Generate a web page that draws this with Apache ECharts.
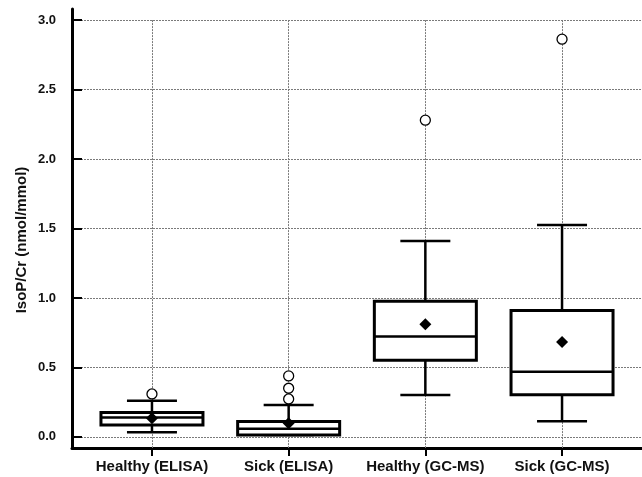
<!DOCTYPE html>
<html>
<head>
<meta charset="utf-8">
<script src="https://cdn.jsdelivr.net/npm/echarts@6/dist/echarts.min.js"></script>
<style>html,body{margin:0;padding:0;background:#fff}#c{width:642px;height:477px}</style>
</head>
<body>
<div id="c"></div>
<script>
const categories = ['Healthy (ELISA)', 'Sick (ELISA)', 'Healthy (GC-MS)', 'Sick (GC-MS)'];
const whiskerLow  = [0.034, 0.014, 0.302, 0.113];
const q1          = [0.086, 0.014, 0.552, 0.304];
const median      = [0.139, 0.058, 0.722, 0.468];
const q3          = [0.175, 0.110, 0.976, 0.910];
const whiskerHigh = [0.261, 0.230, 1.410, 1.525];
const means       = [0.134, 0.099, 0.810, 0.683];
const outliers    = [[0, 0.309], [1, 0.273], [1, 0.350], [1, 0.439], [2, 2.280], [3, 2.863]];
const yTicks = [0, 0.5, 1.0, 1.5, 2.0, 2.5, 3.0];
const xTicks = [0, 1, 2, 3];
const yAxisTitle = 'IsoP/Cr (nmol/mmol)';

const boxData = categories.map((c, i) => [i, whiskerLow[i], q1[i], median[i], q3[i], whiskerHigh[i]]);
const meanData = means.map((m, i) => [i, m]);

const FONT = '"Liberation Sans", Arial, sans-serif';
const BOX_HALF = 51, CAP_HALF = 25;

function renderBox(params, api) {
  const x = api.value(0);
  const pLow = api.coord([x, api.value(1)]);
  const pQ1 = api.coord([x, api.value(2)]);
  const pMed = api.coord([x, api.value(3)]);
  const pQ3 = api.coord([x, api.value(4)]);
  const pHigh = api.coord([x, api.value(5)]);
  const cx = pMed[0];
  const lineStyle = { stroke: '#000', lineWidth: 2.5, fill: null };
  return {
    type: 'group',
    children: [
      { type: 'line', shape: { x1: cx, y1: pHigh[1], x2: cx, y2: pQ3[1] }, style: lineStyle },
      { type: 'line', shape: { x1: cx, y1: pQ1[1], x2: cx, y2: pLow[1] }, style: lineStyle },
      { type: 'line', shape: { x1: cx - CAP_HALF, y1: pHigh[1], x2: cx + CAP_HALF, y2: pHigh[1] }, style: lineStyle },
      { type: 'line', shape: { x1: cx - CAP_HALF, y1: pLow[1], x2: cx + CAP_HALF, y2: pLow[1] }, style: lineStyle },
      { type: 'rect', shape: { x: cx - BOX_HALF, y: pQ3[1], width: BOX_HALF * 2, height: pQ1[1] - pQ3[1] },
        style: { fill: '#fff', stroke: '#000', lineWidth: 3 } },
      { type: 'line', shape: { x1: cx - BOX_HALF, y1: pMed[1], x2: cx + BOX_HALF, y2: pMed[1] }, style: lineStyle }
    ]
  };
}

const chart = echarts.init(document.getElementById('c'), null, { renderer: 'canvas' });
chart.setOption({
  backgroundColor: '#fff',
  animation: false,
  grid: { left: 72, right: 0, top: 9, bottom: 29 },
  xAxis: {
    type: 'value',
    min: -0.585, max: 3.585,
    axisLine: { show: true, onZero: false, lineStyle: { color: '#000', width: 3 } },
    axisTick: { show: true, inside: false, length: 8, customValues: xTicks, lineStyle: { color: '#000', width: 2 } },
    axisLabel: {
      customValues: xTicks, margin: 11,
      formatter: v => categories[Math.round(v)] || '',
      fontFamily: FONT, fontWeight: 'bold', fontSize: 15, color: '#111'
    },
    splitLine: { show: false }
  },
  yAxis: {
    type: 'value',
    min: -0.08, max: 3.08,
    axisLine: { show: true, onZero: false, lineStyle: { color: '#000', width: 3 } },
    axisTick: { show: true, inside: true, length: 10, customValues: yTicks, lineStyle: { color: '#000', width: 2 } },
    axisLabel: {
      customValues: yTicks, margin: 16,
      formatter: v => v.toFixed(1),
      fontFamily: FONT, fontWeight: 'bold', fontSize: 13, color: '#111'
    },
    splitLine: { show: true, lineStyle: { color: '#7a7a7a', width: 1, type: [2, 1] } }
  },
  graphic: [{
    type: 'text', rotation: Math.PI / 2,
    x: 22, y: 240,
    style: { text: yAxisTitle, font: 'bold 15px ' + FONT, fill: '#111', align: 'center', verticalAlign: 'middle' }
  }],
  series: [
    {
      type: 'custom', renderItem: renderBox, data: boxData, z: 3,
      encode: { x: 0, y: [1, 2, 3, 4, 5] },
      markLine: {
        silent: true, symbol: 'none', z: 1,
        lineStyle: { color: '#7a7a7a', width: 1, type: [2, 1] },
        label: { show: false },
        data: xTicks.map(i => [{ coord: [i, yTicks[yTicks.length - 1]] }, { coord: [i, -0.08] }])
      }
    },
    {
      type: 'scatter', data: meanData, symbol: 'diamond', symbolSize: [12, 12], z: 5,
      itemStyle: { color: '#000', opacity: 1 }
    },
    {
      type: 'scatter', data: outliers, symbol: 'circle', symbolSize: 10, z: 5,
      itemStyle: { color: '#fff', borderColor: '#000', borderWidth: 1.3, opacity: 1 }
    }
  ]
});
</script>
</body>
</html>
